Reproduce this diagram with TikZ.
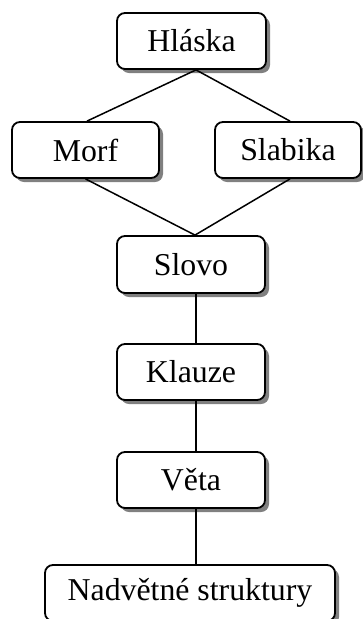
\documentclass[tikz,border=0pt]{standalone}
\usepackage{fontspec}
\setmainfont{Liberation Serif}
\usetikzlibrary{shadows}
\begin{document}
\begin{tikzpicture}[x=1pt,y=-1pt,
  box/.style={draw=black, line width=1.8pt, rounded corners=8pt, fill=white,
    minimum height=56pt, inner sep=0pt, anchor=center,
    font=\fontsize{31.8}{38}\selectfont,
    drop shadow={shadow xshift=4pt, shadow yshift=-4pt, fill=black!50, opacity=1}},
  link/.style={draw=black, line width=1.5pt}]
\useasboundingbox (0,0) rectangle (363,619);
\clip (0,0) rectangle (363,619);
\node[box, minimum width=149pt] (hl) at (191.5,41) {Hláska};
\node[box, minimum width=147pt] (mo) at (85.5,150) {Morf};
\node[box, minimum width=146pt] (sl) at (288,150) {Slabika};
\node[box, minimum width=148pt, minimum height=57pt] (sv) at (191,264.5) {Slovo};
\node[box, minimum width=148pt] (kl) at (191,372) {Klauze};
\node[box, minimum width=148pt] (ve) at (191,480) {Věta};
\node[box, minimum width=290pt] (na) at (190,593) {Nadvětné struktury};
\draw[link] ([xshift=4.5pt]hl.south) -- ([xshift=1.5pt]mo.north);
\draw[link] ([xshift=4.5pt]hl.south) -- ([xshift=2pt]sl.north);
\draw[link] (mo.south) -- ([xshift=4pt]sv.north);
\draw[link] ([xshift=2pt]sl.south) -- ([xshift=4pt]sv.north);
\draw[link] ([xshift=5pt]sv.south) -- ([xshift=5pt]kl.north);
\draw[link] ([xshift=5pt]kl.south) -- ([xshift=5pt]ve.north);
\draw[link] ([xshift=5pt]ve.south) -- ([xshift=6pt]na.north);
\end{tikzpicture}
\end{document}
